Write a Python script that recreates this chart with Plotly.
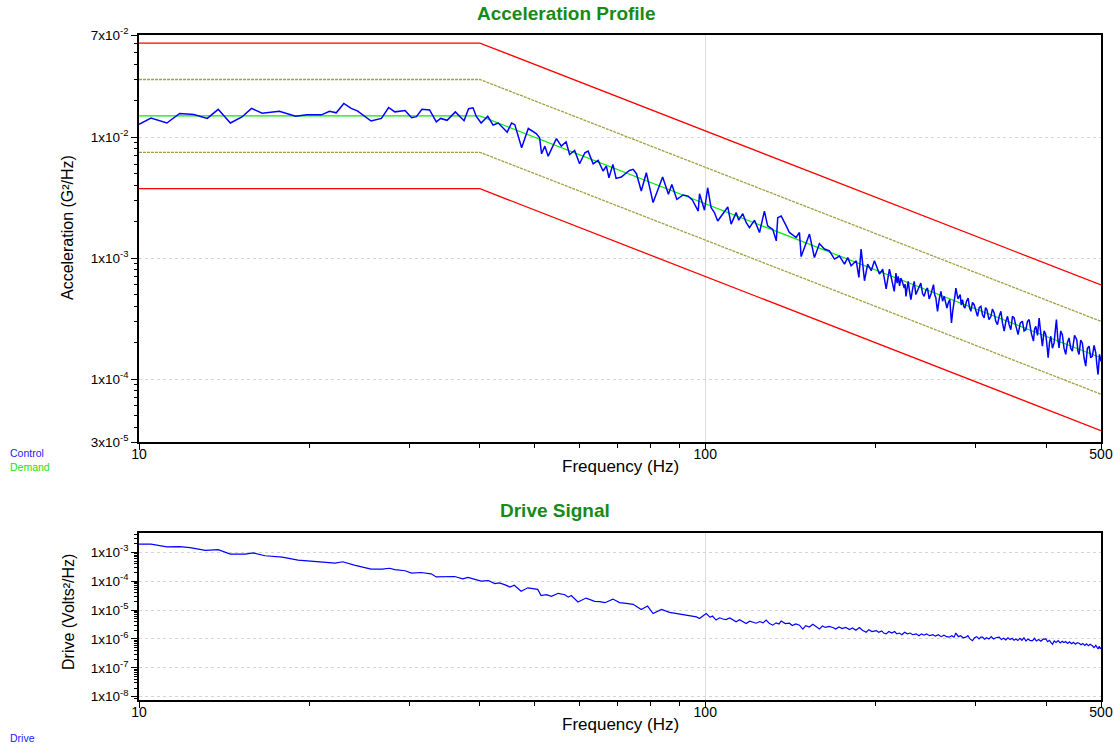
import math
import plotly.graph_objects as go

W, H = 1114, 744

# ---------------- data ----------------
profile_freq = [10, 40, 500]
demand_psd = [0.015, 0.015, 0.00015]
abort_hi_psd = [0.06, 0.06, 0.0006]
abort_lo_psd = [0.00375, 0.00375, 0.0000375]
alarm_hi_psd = [0.03, 0.03, 0.0003]
alarm_lo_psd = [0.0075, 0.0075, 0.000075]

control_freq_low = [
    10.0, 10.5, 11.2, 11.8, 12.5, 13.2, 13.8, 14.5, 15.2, 15.8, 16.5, 17.7, 18.9, 19.8, 21.0, 21.7, 22.3, 23.0,
    23.7, 24.3, 25.7, 26.8, 27.6, 28.3, 29.5, 30.3, 30.9, 31.6, 32.6, 33.5, 34.1, 35.0, 36.2, 37.5, 38.2, 38.9,
    39.4, 40.2, 41.3, 42.2, 43.1, 43.9, 44.7, 45.5, 46.1, 46.6, 47.4, 48.7, 50.3, 51.0, 51.4, 52.1, 52.8, 54.6,
    55.7, 56.8, 57.6, 58.8, 60.0, 61.3, 62.1, 63.4, 64.7, 66.0, 66.9, 67.6, 68.7, 69.6, 71.1, 72.6, 73.5, 74.6,
    75.6, 77.1, 78.7, 80.9, 82.6, 84.1, 86.1, 87.3, 89.1, 91.4, 93.3, 94.9, 97.2,
    97.7, 99.7, 101.0, 102.4, 103.8, 105.2, 107.4, 109.6, 111.1, 113.4, 114.6, 116.5, 118.1, 119.7, 122.2, 124.7,
    127.2, 128.9, 131.6, 133.5, 134.3, 136.2, 139.0, 140.8, 144.7, 146.7, 147.7, 150.8, 152.8, 155.9, 159.1, 162.4,
    165.7, 169.1, 172.6, 176.2, 178.5, 181.0, 184.8, 186.8, 188.5, 191.1, 193.6, 196.4, 199.0, 203.1, 205.8, 208.7,
    211.5,
]
control_psd_low = [
    1.28e-2, 1.44e-2, 1.31e-2, 1.57e-2, 1.54e-2, 1.43e-2, 1.70e-2, 1.31e-2, 1.47e-2, 1.73e-2, 1.58e-2, 1.64e-2,
    1.49e-2, 1.53e-2, 1.53e-2, 1.64e-2, 1.59e-2, 1.90e-2, 1.73e-2, 1.65e-2, 1.36e-2, 1.43e-2, 1.76e-2, 1.62e-2,
    1.66e-2, 1.45e-2, 1.48e-2, 1.70e-2, 1.68e-2, 1.34e-2, 1.43e-2, 1.38e-2, 1.62e-2, 1.37e-2, 1.72e-2, 1.75e-2,
    1.49e-2, 1.31e-2, 1.49e-2, 1.26e-2, 1.31e-2, 1.21e-2, 1.10e-2, 1.31e-2, 1.27e-2, 1.07e-2, 8.17e-3, 1.18e-2,
    1.07e-2, 9.88e-3, 7.29e-3, 8.43e-3, 6.97e-3, 9.75e-3, 8.43e-3, 9.16e-3, 7.19e-3, 7.76e-3, 6.03e-3, 7.43e-3,
    7.67e-3, 6.03e-3, 6.43e-3, 5.25e-3, 5.77e-3, 4.62e-3, 5.96e-3, 4.56e-3, 4.68e-3, 5.08e-3, 5.31e-3, 5.42e-3,
    4.99e-3, 3.59e-3, 5.08e-3, 2.88e-3, 3.82e-3, 4.68e-3, 3.37e-3, 4.07e-3, 3.06e-3, 3.33e-3, 3.26e-3, 3.03e-3,
    2.45e-3,
    3.41e-3, 2.49e-3, 3.82e-3, 2.62e-3, 2.38e-3, 2.03e-3, 2.33e-3, 2.65e-3, 1.91e-3, 2.38e-3, 2.06e-3, 2.33e-3,
    1.97e-3, 1.79e-3, 2.06e-3, 1.63e-3, 2.45e-3, 1.85e-3, 1.73e-3, 1.39e-3, 2.16e-3, 2.23e-3, 1.85e-3, 1.63e-3,
    1.48e-3, 1.63e-3, 1.03e-3, 1.35e-3, 1.58e-3, 1.01e-3, 1.32e-3, 1.19e-3, 1.15e-3, 9.82e-4, 1.04e-3, 8.93e-4,
    1.01e-3, 8.65e-4, 9.51e-4, 6.93e-4, 1.19e-3, 6.50e-4, 8.93e-4, 7.87e-4, 9.51e-4, 7.38e-4, 8.11e-4, 5.56e-4,
    8.11e-4,
]
control_freq_high = [
    215.7, 216.5, 217.2, 218.2, 219.2, 220.4, 221.6, 223.1, 224.6, 225.4, 226.2, 227.2, 228.3, 229.5, 230.8, 232.3,
    233.9, 235.5, 237.1, 238.7, 240.3, 242.0, 243.6, 245.2, 246.9, 248.6, 250.3, 251.6, 253.0, 254.2, 255.5, 256.3,
    257.2, 259.0, 260.8, 262.5, 264.3, 265.8, 267.2, 268.8, 270.4, 271.3, 272.2, 273.7, 275.2, 276.1, 277.1, 279.5,
    282.0, 283.3, 284.7, 286.1, 287.5, 289.4, 291.3, 292.9, 294.5, 296.5, 298.5, 300.5, 302.6, 304.7, 306.8, 308.8,
    310.9, 312.6, 314.4, 317.0, 319.5, 321.6, 323.8, 326.0, 328.2, 330.5, 332.8, 335.0, 337.3, 339.6, 341.9, 344.2,
    346.5, 348.8, 351.2, 354.0, 356.9, 360.0, 363.2, 365.7, 368.3, 370.8, 373.3, 376.6, 379.9, 381.7, 383.6, 386.2,
    388.8, 391.4, 394.0, 396.7, 399.5, 401.4, 403.3, 405.5, 407.7, 410.4, 413.2, 415.1, 417.1, 419.3, 421.6, 424.4,
    427.3, 430.2, 433.2, 436.1, 439.1, 442.0, 445.0, 449.0, 453.1, 455.2, 457.3, 460.4, 463.5, 466.7, 469.9, 473.1,
    476.3, 479.5, 482.7, 486.1, 489.5, 491.8, 494.1, 497.0, 500.0,
]
control_psd_high = [
    5.31e-4, 6.6e-4, 7.52e-4, 6.2e-4, 7.06e-4, 5.9e-4, 6.84e-4, 6.3e-4, 5.66e-4, 6.1e-4, 4.83e-4, 5.6e-4,
    6.42e-4, 5.3e-4, 4.54e-4, 5.5e-4, 6.42e-4, 5.0e-4, 5.31e-4, 5.8e-4, 6.22e-4, 5.1e-4, 4.83e-4, 5.4e-4,
    5.66e-4, 4.6e-4, 4.99e-4, 5.5e-4, 6.03e-4, 5.0e-4, 4.68e-4, 4.1e-4, 3.63e-4, 4.6e-4, 5.31e-4, 4.4e-4,
    4.83e-4, 4.3e-4, 3.87e-4, 4.3e-4, 4.54e-4, 3.6e-4, 2.91e-4, 3.7e-4, 4.26e-4, 4.9e-4, 5.66e-4, 4.6e-4,
    4.99e-4, 4.1e-4, 4.54e-4, 4.0e-4, 3.87e-4, 4.4e-4, 4.68e-4, 3.9e-4, 3.63e-4, 4.3e-4, 4.12e-4, 3.6e-4,
    3.30e-4, 3.9e-4, 4.00e-4, 3.4e-4, 3.20e-4, 3.9e-4, 3.75e-4, 3.1e-4, 3.30e-4, 3.8e-4, 3.52e-4, 3.0e-4,
    2.82e-4, 3.3e-4, 3.63e-4, 2.9e-4, 2.49e-4, 3.0e-4, 3.30e-4, 2.8e-4, 2.56e-4, 3.3e-4, 3.20e-4, 2.7e-4,
    2.33e-4, 2.9e-4, 3.01e-4, 2.5e-4, 2.56e-4, 3.0e-4, 3.10e-4, 2.4e-4, 2.06e-4, 2.6e-4, 2.73e-4, 2.3e-4,
    3.20e-4, 2.4e-4, 1.87e-4, 2.5e-4, 2.33e-4, 1.9e-4, 1.50e-4, 2.0e-4, 2.26e-4, 1.8e-4, 1.99e-4, 2.5e-4,
    3.10e-4, 2.2e-4, 1.81e-4, 2.5e-4, 2.33e-4, 1.8e-4, 1.60e-4, 2.0e-4, 2.19e-4, 1.8e-4, 1.70e-4, 2.3e-4,
    2.12e-4, 1.7e-4, 1.60e-4, 2.1e-4, 1.99e-4, 1.5e-4, 1.28e-4, 1.8e-4, 1.87e-4, 1.5e-4, 1.55e-4, 1.9e-4,
    1.65e-4, 1.3e-4, 1.09e-4, 1.6e-4, 1.40e-4,
]

drive_freq = [
    10.0, 10.5, 11.2, 11.8, 12.3, 13.1, 13.8, 14.5, 15.4, 15.9, 16.7, 17.9, 19.1, 20.7, 22.2, 22.9, 24.0, 25.7,
    26.9, 27.7, 28.3, 29.5, 30.3, 31.5, 32.8, 33.5, 34.9, 36.1, 37.3, 38.1, 40.2, 41.4, 42.5, 43.3, 44.2, 45.2,
    46.0, 47.3, 48.6, 50.6, 51.3, 52.4, 53.5, 55.0, 56.5, 57.3, 58.0, 59.6, 61.6, 63.8, 65.1, 66.5, 68.7, 70.6,
    72.5, 74.6, 77.1, 79.1, 80.9, 83.7, 86.5, 89.0, 90.8, 92.6, 94.5, 96.5, 97.7,
    100.4, 102.0, 103.0, 104.5, 106.0, 107.5, 108.8, 110.5, 112.0, 113.4, 115.0, 116.5, 118.1, 119.8, 121.4, 123.0,
    124.8, 126.5, 128.1, 129.9, 131.6, 133.4, 135.0, 136.2, 138.5, 140.8, 142.5, 144.5, 146.7, 148.7, 150.5, 152.7,
    154.9, 157.0, 159.1, 161.0, 163.0, 165.5, 168.0, 170.0, 172.3, 174.5, 177.0, 179.8, 182.0, 184.5, 187.2, 189.5,
    192.4, 194.5, 197.0, 200.4, 202.5, 205.0, 206.7, 208.7, 211.0, 213.5, 216.0, 218.0, 220.2, 222.5, 225.0, 227.5,
    230.0, 232.5, 235.8, 238.5, 241.0, 243.5, 246.0, 249.0, 252.4, 255.0, 258.0, 261.0, 264.0, 267.0, 269.7, 272.5,
    275.0, 277.1, 280.0, 282.5, 285.5, 288.6, 291.0, 293.5, 296.5, 299.0, 301.5, 304.5, 306.5, 308.8, 311.5, 314.0,
    317.0, 320.0, 323.0, 326.0, 330.5, 333.5, 336.5, 339.5, 342.5, 345.5, 348.5, 351.0, 353.7, 356.5, 359.5, 362.5,
    365.5, 368.5, 371.5, 375.0, 378.5, 381.5, 384.5, 388.0, 391.5, 395.0, 399.5, 402.5, 405.5, 408.0, 410.5, 413.5,
    416.5, 420.0, 423.5, 427.0, 430.0, 433.2, 436.5, 440.0, 443.5, 447.0, 450.5, 454.0, 457.3, 461.0, 464.5, 468.0,
    471.5, 475.0, 478.5, 482.7, 486.0, 489.5, 492.0, 494.1, 496.5, 498.5, 500.0,
]
drive_psd = [
    1.91e-3, 1.91e-3, 1.55e-3, 1.58e-3, 1.45e-3, 1.17e-3, 1.23e-3, 8.7e-4, 8.7e-4, 9.5e-4, 7.6e-4, 6.8e-4,
    5.4e-4, 4.7e-4, 4.2e-4, 4.7e-4, 3.6e-4, 2.6e-4, 2.6e-4, 2.8e-4, 2.5e-4, 2.3e-4, 1.9e-4, 2.0e-4,
    1.8e-4, 1.4e-4, 1.4e-4, 1.45e-4, 1.2e-4, 1.35e-4, 1.0e-4, 1.05e-4, 8.3e-5, 8.7e-5, 7.6e-5, 6.3e-5,
    7.2e-5, 4.5e-5, 5.9e-5, 5.2e-5, 3.2e-5, 3.4e-5, 3.0e-5, 3.8e-5, 3.4e-5, 2.8e-5, 3.2e-5, 1.9e-5,
    2.6e-5, 2.0e-5, 1.95e-5, 1.8e-5, 2.4e-5, 1.82e-5, 1.7e-5, 1.58e-5, 1.05e-5, 1.38e-5, 7.6e-6, 1.05e-5,
    8.3e-6, 7.6e-6, 7.0e-6, 6.6e-6, 6.2e-6, 5.8e-6, 5.1e-6,
    7.6e-6, 5.6e-6, 6.2e-6, 4.5e-6, 5.4e-6, 4.9e-6, 4.7e-6, 5.3e-6, 4.4e-6, 3.9e-6, 4.6e-6, 4.0e-6,
    3.4e-6, 4.1e-6, 3.7e-6, 3.5e-6, 4.0e-6, 3.6e-6, 4.5e-6, 3.4e-6, 3.0e-6, 3.6e-6, 3.3e-6, 4.2e-6,
    3.4e-6, 3.5e-6, 2.9e-6, 3.3e-6, 3.0e-6, 2.2e-6, 2.9e-6, 2.6e-6, 3.2e-6, 2.6e-6, 2.2e-6, 2.8e-6,
    2.5e-6, 2.7e-6, 2.5e-6, 2.2e-6, 2.6e-6, 2.3e-6, 2.5e-6, 2.1e-6, 2.4e-6, 2.0e-6, 2.5e-6, 2.0e-6,
    1.7e-6, 2.1e-6, 1.8e-6, 1.95e-6, 1.7e-6, 1.9e-6, 1.6e-6, 1.5e-6, 1.8e-6, 1.6e-6, 1.8e-6, 1.5e-6,
    1.6e-6, 1.4e-6, 1.7e-6, 1.5e-6, 1.6e-6, 1.4e-6, 1.5e-6, 1.3e-6, 1.5e-6, 1.35e-6, 1.5e-6, 1.3e-6,
    1.4e-6, 1.25e-6, 1.4e-6, 1.2e-6, 1.35e-6, 1.2e-6, 1.15e-6, 1.3e-6, 1.15e-6, 1.6e-6, 1.2e-6, 1.3e-6,
    1.1e-6, 1.15e-6, 1.3e-6, 1.0e-6, 8.7e-7, 1.1e-6, 1.2e-6, 1.0e-6, 1.15e-6, 1.15e-6, 9.8e-7, 1.1e-6,
    1.0e-6, 1.2e-6, 1.0e-6, 1.1e-6, 1.15e-6, 9.5e-7, 1.05e-6, 9.3e-7, 1.1e-6, 9.5e-7, 1.05e-6, 9.0e-7,
    1.0e-6, 8.8e-7, 1.05e-6, 9.0e-7, 1.1e-6, 8.5e-7, 1.0e-6, 8.8e-7, 8.7e-7, 1.05e-6, 8.5e-7, 9.5e-7,
    8.3e-7, 9.8e-7, 1.0e-6, 8.0e-7, 9.0e-7, 7.5e-7, 6.6e-7, 8.5e-7, 7.6e-7, 8.8e-7, 7.3e-7, 8.3e-7,
    7.5e-7, 8.1e-7, 7.0e-7, 8.0e-7, 6.8e-7, 7.6e-7, 6.6e-7, 7.4e-7, 7.1e-7, 6.3e-7, 7.0e-7, 6.0e-7,
    6.8e-7, 5.8e-7, 6.5e-7, 5.8e-7, 5.0e-7, 6.0e-7, 5.3e-7, 4.5e-7, 5.6e-7, 4.6e-7, 5.0e-7,
]

x_tickvals = [10, 100, 500]
x_ticktext = ["10", "100", "500"]
acc_tickvals = [7e-2, 1e-2, 1e-3, 1e-4, 3e-5]
acc_ticktext = ["7x10<sup>-2</sup>", "1x10<sup>-2</sup>", "1x10<sup>-3</sup>", "1x10<sup>-4</sup>", "3x10<sup>-5</sup>"]
drv_tickvals = [1e-3, 1e-4, 1e-5, 1e-6, 1e-7, 1e-8]
drv_ticktext = ["1x10<sup>-3</sup>", "1x10<sup>-4</sup>", "1x10<sup>-5</sup>", "1x10<sup>-6</sup>",
                "1x10<sup>-7</sup>", "1x10<sup>-8</sup>"]

control_freq = control_freq_low + control_freq_high
control_psd = control_psd_low + control_psd_high

# ---------------- figure ----------------
FONT = "Liberation Sans, Arial, sans-serif"
fig = go.Figure()

RED = "#FF0000"
OLIVE = "#A0A040"

def add(x, y, color, width, xa, ya, dash="solid"):
    fig.add_trace(go.Scatter(x=x, y=y, mode="lines", xaxis=xa, yaxis=ya,
                             line=dict(color=color, width=width, dash=dash),
                             hoverinfo="skip", showlegend=False))

add(profile_freq, abort_hi_psd, RED, 1.3, "x", "y")
add(profile_freq, abort_lo_psd, RED, 1.3, "x", "y")
add(profile_freq, alarm_hi_psd, OLIVE, 1.3, "x", "y", "3px,1px")
add(profile_freq, alarm_lo_psd, OLIVE, 1.3, "x", "y", "3px,1px")
add(profile_freq, demand_psd, "#00EE00", 1.2, "x", "y")
add(control_freq, control_psd, "#0000FF", 1.5, "x", "y")
add(drive_freq, drive_psd, "#0000FF", 1.2, "x2", "y2")

x_minor = [20, 30, 40, 50, 60, 70, 80, 90, 200, 300, 400]
acc_minor = [m * 10 ** e for e in (-5, -4, -3, -2) for m in range(2, 10) if 3e-5 < m * 10 ** e < 7e-2]
drv_minor = [m * 10 ** e for e in (-9, -8, -7, -6, -5, -4, -3) for m in range(2, 10) if 8e-9 < m * 10 ** e < 4.5e-3]

XD = [139 / W, 1101 / W]
common_x = dict(type="log", range=[1, math.log10(500)], domain=XD,
                tickmode="array", tickvals=x_tickvals, ticktext=x_ticktext,
                ticks="outside", ticklen=6, tickwidth=1, tickcolor="black",
                ticklabelstandoff=-8,
                showline=True, linecolor="black", linewidth=1.6, mirror=True,
                showgrid=True, gridcolor="#DDDDDD", gridwidth=1,
                zeroline=False, tickfont=dict(family=FONT, size=14, color="black"),
                minor=dict(tickvals=x_minor, ticks="outside", ticklen=4, tickcolor="black", showgrid=False),
                automargin=False, fixedrange=True)

def yax(rng, dom, anchor, tv, tt, minor):
    return dict(type="log", range=rng, domain=dom, anchor=anchor,
                tickmode="array", tickvals=tv, ticktext=tt,
                ticks="outside", ticklen=6, tickwidth=1, tickcolor="black",
                showline=True, linecolor="black", linewidth=1.6, mirror=True,
                showgrid=True, gridcolor="#D4D4D4", griddash="dot", gridwidth=1,
                zeroline=False, tickfont=dict(family=FONT, size=13.5, color="black"),
                minor=dict(tickvals=minor, ticks="outside", ticklen=3, tickcolor="black", showgrid=False),
                automargin=False, fixedrange=True)

fig.update_layout(
    width=W, height=H,
    margin=dict(l=0, r=0, t=0, b=0),
    paper_bgcolor="white", plot_bgcolor="white",
    showlegend=False,
    font=dict(family=FONT, color="black"),
    xaxis=dict(anchor="y", **common_x),
    xaxis2=dict(anchor="y2", **common_x),
    yaxis=yax([math.log10(3e-5), math.log10(7e-2)], [1 - 442.3 / H, 1 - 35 / H], "x",
              acc_tickvals, acc_ticktext, acc_minor),
    yaxis2=yax([-8.114, -2.342], [1 - 700 / H, 1 - 533.3 / H], "x2",
               drv_tickvals, drv_ticktext, drv_minor),
)

def ann(text, xpx, ypx, size, color="black", xanchor="center", angle=0, bold=False):
    fig.add_annotation(text=("<b>%s</b>" % text) if bold else text,
                       x=xpx / W, y=1 - ypx / H, xref="paper", yref="paper",
                       xanchor=xanchor, yanchor="middle", showarrow=False, textangle=angle,
                       font=dict(family=FONT, size=size, color=color))

TITLE_GREEN = "#178A17"
ann("Acceleration Profile", 566, 14, 19, TITLE_GREEN, bold=True)
ann("Drive Signal", 555, 511, 19, TITLE_GREEN, bold=True)
ann("Frequency (Hz)", 620, 466, 17)
ann("Frequency (Hz)", 620, 724, 17)
ann("Acceleration (G²/Hz)", 68, 228, 16, angle=-90)
ann("Drive (Volts²/Hz)", 68, 612, 16, angle=-90)
ann("Control", 8, 453, 10.5, "#2020FF", xanchor="left")
ann("Demand", 8, 467, 10.5, "#22DD22", xanchor="left")
ann("Drive", 8, 738, 10.5, "#2020FF", xanchor="left")

fig.write_html("out.html",
               config={"displayModeBar": False},
               post_script="document.body.style.margin='0px';document.body.style.overflow='hidden';")
